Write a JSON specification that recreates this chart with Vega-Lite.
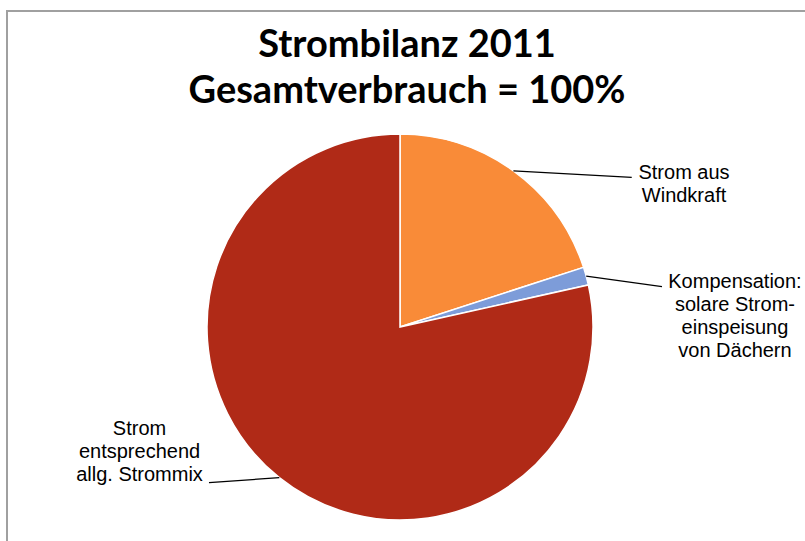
{
  "$schema": "https://vega.github.io/schema/vega-lite/v6.json",
  "autosize": {"type": "none"},
  "padding": {"left": 7, "top": 11, "right": 0, "bottom": 0},
  "width": 800,
  "height": 632,
  "background": "white",
  "config": {"view": {"stroke": "#a0a0a0", "strokeWidth": 2}},
  "title": {
    "text": ["Strombilanz 2011", "Gesamtverbrauch = 100%"],
    "font": "Lato",
    "fontSize": 38,
    "fontWeight": "bold",
    "color": "#000000",
    "anchor": "middle",
    "baseline": "top",
    "lineHeight": 46,
    "offset": -100
  },
  "datasets": {
    "shares": [
      {"category": "Strom aus Windkraft", "value": 20.0, "order": 1, "label": "Strom aus\nWindkraft"},
      {"category": "Kompensation: solare Stromeinspeisung von Dächern", "value": 1.5, "order": 2, "label": "Kompensation:\nsolare Strom-\neinspeisung\nvon Dächern"},
      {"category": "Strom entsprechend allg. Strommix", "value": 78.5, "order": 3, "label": "Strom\nentsprechend\nallg. Strommix"}
    ],
    "leaders": [
      {"category": "Strom aus Windkraft", "x": 113.4, "y": 156.1, "x2": 231.7, "y2": 149.7},
      {"category": "Kompensation: solare Stromeinspeisung von Dächern", "x": 186.2, "y": 50.9, "x2": 262, "y2": 40.3},
      {"category": "Strom entsprechend allg. Strommix", "x": -120.7, "y": -150.6, "x2": -191, "y2": -155.7}
    ]
  },
  "layer": [
    {
      "data": {"name": "shares"},
      "mark": {"type": "arc", "outerRadius": 193, "stroke": "#ffffff", "strokeWidth": 1.5, "xOffset": -7},
      "encoding": {
        "theta": {"field": "value", "type": "quantitative", "stack": true},
        "order": {"field": "order", "type": "quantitative"},
        "color": {
          "field": "category",
          "type": "nominal",
          "scale": {
            "domain": ["Strom aus Windkraft", "Kompensation: solare Stromeinspeisung von Dächern", "Strom entsprechend allg. Strommix"],
            "range": ["#F98B38", "#7D9CD9", "#B02A17"]
          },
          "legend": null
        }
      }
    },
    {
      "data": {"name": "leaders"},
      "mark": {"type": "rule", "color": "#000000", "strokeWidth": 1.3},
      "encoding": {
        "x": {"field": "x", "type": "quantitative", "scale": {"domain": [-393, 407]}, "axis": null},
        "y": {"field": "y", "type": "quantitative", "scale": {"domain": [-316, 316]}, "axis": null},
        "x2": {"field": "x2"},
        "y2": {"field": "y2"}
      }
    },
    {
      "data": {"name": "shares"},
      "mark": {"type": "text", "radius": 193, "xOffset": -7, "dx": 170.6, "dy": 8.1, "font": "Liberation Sans", "fontSize": 20, "lineHeight": 23, "lineBreak": "\n", "align": "center", "baseline": "alphabetic", "color": "#000000"},
      "encoding": {
        "theta": {"field": "value", "type": "quantitative", "stack": true},
        "order": {"field": "order", "type": "quantitative"},
        "text": {"condition": {"test": "datum.order === 1", "field": "label", "type": "nominal"}, "value": ""}
      }
    },
    {
      "data": {"name": "shares"},
      "mark": {"type": "text", "radius": 193, "xOffset": -7, "dx": 148.8, "dy": 11.9, "font": "Liberation Sans", "fontSize": 20, "lineHeight": 23, "lineBreak": "\n", "align": "center", "baseline": "alphabetic", "color": "#000000"},
      "encoding": {
        "theta": {"field": "value", "type": "quantitative", "stack": true},
        "order": {"field": "order", "type": "quantitative"},
        "text": {"condition": {"test": "datum.order === 2", "field": "label", "type": "nominal"}, "value": ""}
      }
    },
    {
      "data": {"name": "shares"},
      "mark": {"type": "text", "radius": 193, "xOffset": -7, "dx": -139.8, "dy": -42.6, "font": "Liberation Sans", "fontSize": 20, "lineHeight": 23, "lineBreak": "\n", "align": "center", "baseline": "alphabetic", "color": "#000000"},
      "encoding": {
        "theta": {"field": "value", "type": "quantitative", "stack": true},
        "order": {"field": "order", "type": "quantitative"},
        "text": {"condition": {"test": "datum.order === 3", "field": "label", "type": "nominal"}, "value": ""}
      }
    }
  ]
}
